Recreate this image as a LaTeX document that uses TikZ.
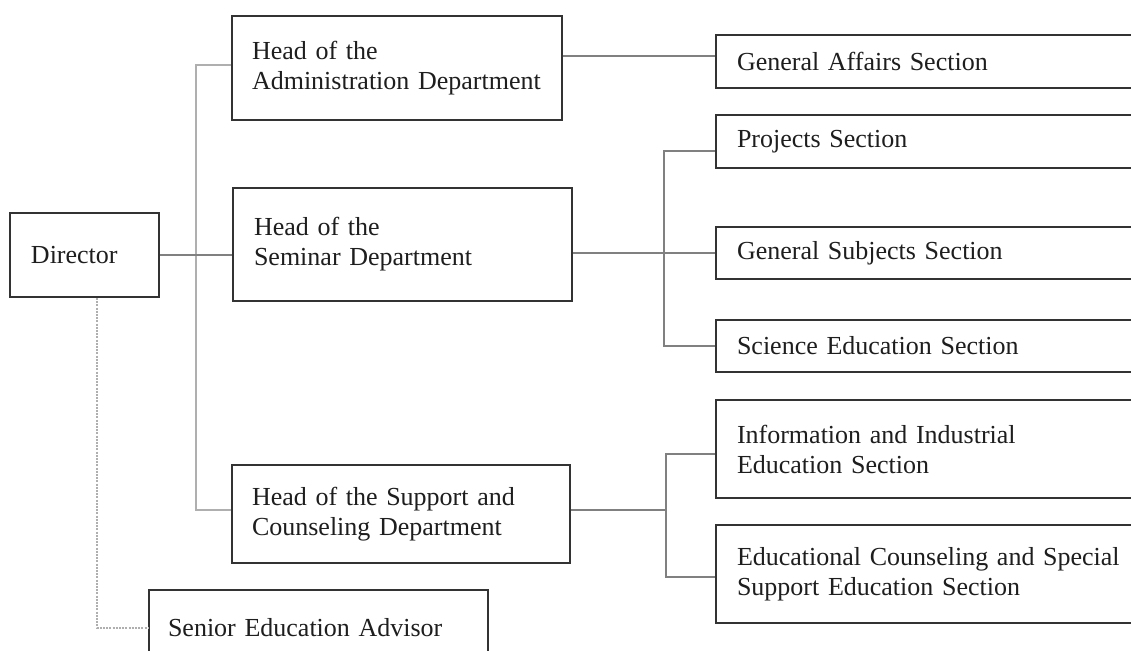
\documentclass[tikz,border=0pt]{standalone}
\usepackage{fontspec}
\setmainfont{Liberation Serif}
\usetikzlibrary{positioning}

\definecolor{boxline}{HTML}{333333}
\definecolor{textgray}{HTML}{1E1E1E}
\definecolor{linkgray}{HTML}{808080}
\definecolor{trunkgray}{HTML}{AFAFAF}

\begin{document}
\begin{tikzpicture}[x=0.5pt, y=-0.5pt,
    box/.style={draw=boxline, line width=1pt, rectangle, inner ysep=0pt,
        align=left, text=textgray, font=\fontsize{13}{15}\selectfont},
    sect/.style={box, inner xsep=10.5pt, text width=206pt},
    link/.style={draw=linkgray, line width=0.75pt},
    trunk/.style={draw=trunkgray, line width=0.9pt},
    advline/.style={draw=trunkgray, line width=0.75pt, dash pattern=on 1pt off 0.6pt}]

        % Rahmen des Bildes
        \useasboundingbox (0,0) rectangle (1131,651);
        \fill[white] (0,0) rectangle (1131,651);
        \clip (0,0) rectangle (1131,651);

        % Leitung
        \node[box, inner xsep=10.5pt, text width=53.5pt, minimum height=42pt] (director) at (84.5,255) {Director};

        % Abteilungen
        \node[box, inner xsep=10pt, text width=145pt, minimum height=52pt] (admin) at (397,68) {Head of the\\Administration Department};
        \node[box, inner xsep=10.5pt, text width=148.5pt, minimum height=56.5pt] (seminar) at (402.5,244.5) {Head of the\\Seminar Department};
        \node[box, inner xsep=10pt, text width=149pt, minimum height=49pt] (support) at (401,514) {Head of the Support and\\Counseling Department};
        \node[box, inner xsep=9.5pt, text width=150.5pt, minimum height=38pt] (advisor) at (318.5,628) {Senior Education Advisor};

        % Sektionen
        \node[sect, minimum height=26.5pt] (affairs) at (943,61.5) {General Affairs Section};
        \node[sect, minimum height=26.5pt] (projects) at (943,141.5) {Projects Section};
        \node[sect, minimum height=26pt] (subjects) at (943,253) {General Subjects Section};
        \node[sect, minimum height=26pt] (science) at (943,346) {Science Education Section};
        \node[sect, minimum height=49pt] (infosec) at (943,449) {Information and Industrial\\Education Section};
        \node[sect, minimum height=49pt] (counsel) at (943,574) {Educational Counseling and Special\\Support Education Section};

        % Hilfspunkte fuer die Verbindungen
        \coordinate (tk) at (196,0);
        \coordinate (brA) at (664,0);
        \coordinate (brB) at (666,0);
        \coordinate (adminIn) at ([yshift=1.5pt]admin.west);
        \coordinate (supportY) at ([yshift=2pt]support.center);
        \coordinate (affairsIn) at ([yshift=2.75pt]affairs.west);
        \coordinate (projectsIn) at ([yshift=-4.75pt]projects.west);
        \coordinate (infoIn) at ([yshift=-2.5pt]infosec.west);
        \coordinate (counselIn) at ([yshift=-1.5pt]counsel.west);

        % Verbindungen
        \draw[trunk] (adminIn) -| (tk |- supportY) -- (support.west |- supportY);
        \draw[link] (director.east) -- (director.east -| seminar.west);
        \draw[link] (admin.east |- affairsIn) -- (affairsIn);
        \draw[link] (seminar.east |- subjects.west) -- (subjects.west);
        \draw[link] (projectsIn) -| (brA |- science.west) -- (science.west);
        \draw[link] (support.east |- supportY) -- (brB |- supportY);
        \draw[link] (infoIn) -| (brB |- counselIn) -- (counselIn);
        \draw[advline] ([xshift=6.25pt]director.south) |- (advisor.west);
    \end{tikzpicture}
\end{document}
